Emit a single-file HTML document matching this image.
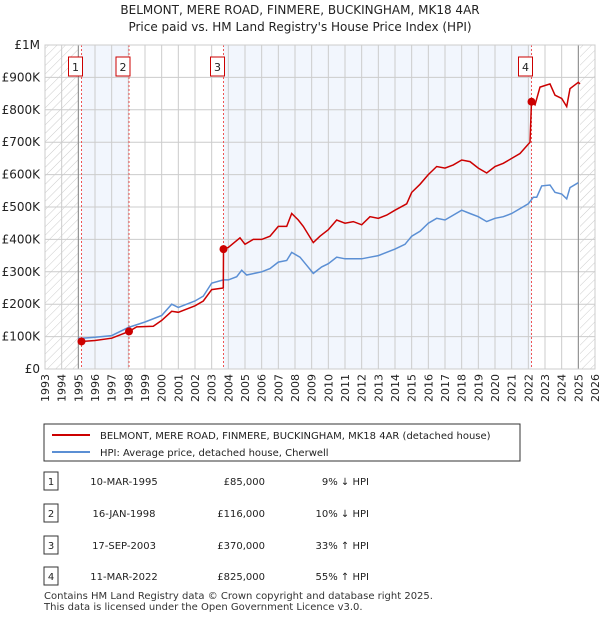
<!DOCTYPE html>
<html><head><meta charset="utf-8"><style>
body{margin:0;background:#fff;font-family:"DejaVu Sans","Liberation Sans",sans-serif;}
svg text{font-family:"DejaVu Sans","Liberation Sans",sans-serif;}
</style></head><body>
<svg id="chart" width="600" height="620" xmlns="http://www.w3.org/2000/svg">
<defs><pattern id="hatch" width="6" height="6" patternUnits="userSpaceOnUse" patternTransform="rotate(45)"><line x1="0" y1="0" x2="0" y2="6" stroke="#ccc" stroke-width="1"/></pattern></defs>
<text x="300" y="14" text-anchor="middle" font-size="12" fill="#222">BELMONT, MERE ROAD, FINMERE, BUCKINGHAM, MK18 4AR</text>
<text x="300" y="31" text-anchor="middle" font-size="12" fill="#222">Price paid vs. HM Land Registry's House Price Index (HPI)</text>
<g id="plot"></g>
<g>
<rect x="44" y="424" width="476" height="37" fill="#fff" stroke="#333"/>
<line x1="52" y1="435" x2="90" y2="435" stroke="#cc0000" stroke-width="2"/>
<text x="100" y="439" font-size="10" fill="#222">BELMONT, MERE ROAD, FINMERE, BUCKINGHAM, MK18 4AR (detached house)</text>
<line x1="52" y1="452" x2="90" y2="452" stroke="#5b8fd4" stroke-width="2"/>
<text x="100" y="456" font-size="10" fill="#222">HPI: Average price, detached house, Cherwell</text>
</g>
<g id="table" font-size="10" fill="#222"></g>
<text x="44" y="599" font-size="10" fill="#333">Contains HM Land Registry data © Crown copyright and database right 2025.</text>
<text x="44" y="610" font-size="10" fill="#333">This data is licensed under the Open Government Licence v3.0.</text>
</svg>
<script>
const hpiYears=[1995.0,1995.2,1996,1997,1998,1999,2000,2000.6,2001,2002,2002.5,2003,2003.7,2004,2004.5,2004.8,2005.1,2006,2006.5,2007,2007.5,2007.8,2008.3,2008.7,2009.1,2009.6,2010,2010.5,2011,2012,2012.5,2013,2014,2014.6,2015,2015.5,2016,2016.5,2017,2017.5,2018,2018.5,2019,2019.5,2020,2020.5,2021,2021.5,2022,2022.3,2022.5,2022.8,2023.3,2023.6,2024,2024.3,2024.5,2025];
const hpiValues=[95,95,98,103,128,145,165,200,190,210,225,265,275,275,285,305,290,300,310,330,335,360,345,320,295,315,325,345,340,340,345,350,370,385,410,425,450,465,460,475,490,480,470,455,465,470,480,495,510,530,530,565,568,545,540,525,560,575];
const priceYears=[1995.19,1996,1997,1998.04,1998.5,1999.5,2000,2000.6,2001,2002,2002.5,2003,2003.7,2003.71,2004,2004.7,2005,2005.5,2006,2006.5,2007,2007.5,2007.8,2008.2,2008.5,2009.1,2009.5,2010,2010.5,2011,2011.5,2012,2012.5,2013,2013.5,2014,2014.7,2015,2015.5,2016,2016.5,2017,2017.5,2018,2018.5,2019,2019.5,2020,2020.5,2021,2021.5,2022.1,2022.19,2022.4,2022.7,2023,2023.3,2023.6,2024,2024.3,2024.5,2025,2025.1];
const priceValues=[85,88,95,116,130,132,150,178,175,195,210,245,250,370,375,405,385,400,400,410,440,440,480,460,440,390,410,430,460,450,455,445,470,465,475,490,510,545,570,600,625,620,630,645,640,620,605,625,635,650,665,700,825,815,870,875,880,845,835,810,865,885,880];
const saleYears=[1995.19,1998.04,2003.71,2022.19];
const saleValues=[85,116,370,825];
const saleLabels=["1","2","3","4"];
const saleDates=["10-MAR-1995","16-JAN-1998","17-SEP-2003","11-MAR-2022"];
const salePrices=["£85,000","£116,000","£370,000","£825,000"];
const saleHpi=["9% ↓ HPI","10% ↓ HPI","33% ↑ HPI","55% ↑ HPI"];
const yTicks=[0,100,200,300,400,500,600,700,800,900,1000];
const yTickLabels=["£0","£100K","£200K","£300K","£400K","£500K","£600K","£700K","£800K","£900K","£1M"];
const xTicks=[1993,1994,1995,1996,1997,1998,1999,2000,2001,2002,2003,2004,2005,2006,2007,2008,2009,2010,2011,2012,2013,2014,2015,2016,2017,2018,2019,2020,2021,2022,2023,2024,2025,2026];
const X0=45,X1=595,Y0=369,Y1=45;
const x=y=>X0+(y-1993)/(2026-1993)*(X1-X0);
const yv=v=>Y0-v/1000*(Y0-Y1);
const NS="http://www.w3.org/2000/svg";
const plot=document.getElementById('plot');
function mk(t,a,p){const e=document.createElementNS(NS,t);for(const k in a)e.setAttribute(k,a[k]);(p||plot).appendChild(e);return e;}
let r;
r=mk('rect',{x:X0,y:Y1,width:X1-X0,height:Y0-Y1,fill:'#fff'});


r=mk('rect',{x:x(saleYears[0]),y:Y1,width:x(saleYears[1])-x(saleYears[0]),height:Y0-Y1,fill:'#f2f6fd'});


r=mk('rect',{x:x(saleYears[2]),y:Y1,width:x(saleYears[3])-x(saleYears[2]),height:Y0-Y1,fill:'#f2f6fd'});


r=mk('rect',{x:X0,y:Y1,width:x(1995)-X0,height:Y0-Y1,fill:'url(#hatch)'});


r=mk('rect',{x:x(2025.1),y:Y1,width:X1-x(2025.1),height:Y0-Y1,fill:'url(#hatch)'});


xTicks.forEach(t=>{const l=mk('line',{x1:x(t),x2:x(t),y1:Y1,y2:Y0,stroke:'#ccc','stroke-width':1});


const tx=mk('text',{x:0,y:0,'font-size':11,fill:'#222','text-anchor':'end',transform:`translate(${x(t)+4},${Y0+5}) rotate(-90)`});tx.textContent=t;

});
yTicks.forEach((t,i)=>{const l=mk('line',{x1:X0,x2:X1,y1:yv(t),y2:yv(t),stroke:'#ccc','stroke-width':1});


const tx=mk('text',{x:X0-5,y:yv(t)+4,'font-size':12,fill:'#222','text-anchor':'end'});tx.textContent=yTickLabels[i];

});
[1995,2025].forEach(t=>{const l=mk('line',{x1:x(t),x2:x(t),y1:Y1,y2:Y0,stroke:'#888','stroke-width':1});

});
saleYears.forEach((s,i)=>{const l=mk('line',{x1:x(s),x2:x(s),y1:Y1,y2:Y0,stroke:'#e55','stroke-width':1,'stroke-dasharray':'2,2'});

});
const pts=(xs,vs)=>xs.map((a,i)=>x(a).toFixed(1)+','+yv(vs[i]).toFixed(1)).join(' ');
let pl=mk('polyline',{points:pts(hpiYears,hpiValues),fill:'none',stroke:'#5b8fd4','stroke-width':1.5});


pl=mk('polyline',{points:pts(priceYears,priceValues),fill:'none',stroke:'#cc0000','stroke-width':1.5});


saleYears.forEach((s,i)=>{const c=mk('circle',{cx:x(s),cy:yv(saleValues[i]),r:4,fill:'#cc0000'});


const b=mk('rect',{x:x(s)-13,y:57,width:14,height:19,fill:'#fff',stroke:'#cc0000'});


const t=mk('text',{x:x(s)-6,y:71,'font-size':11,fill:'#222','text-anchor':'middle'});t.textContent=saleLabels[i];

});
r=mk('rect',{x:X0,y:Y1,width:X1-X0,height:Y0-Y1,fill:'none',stroke:'#ccc'});


const tb=document.getElementById('table');
const rowY=[482,514,546,577];
saleLabels.forEach((l,i)=>{const y=rowY[i];
const b=mk('rect',{x:44,y:y-10,width:14,height:18,fill:'#fff',stroke:'#333'},tb);


const cells=[[51,l,'middle'],[124,saleDates[i],'middle'],[265,salePrices[i],'end'],[369,saleHpi[i],'end']];
cells.forEach(c=>{const t=mk('text',{x:c[0],y:y+3,'font-size':10,fill:'#222','text-anchor':c[2]},tb);t.textContent=c[1];

});});
</script>
</body></html>
